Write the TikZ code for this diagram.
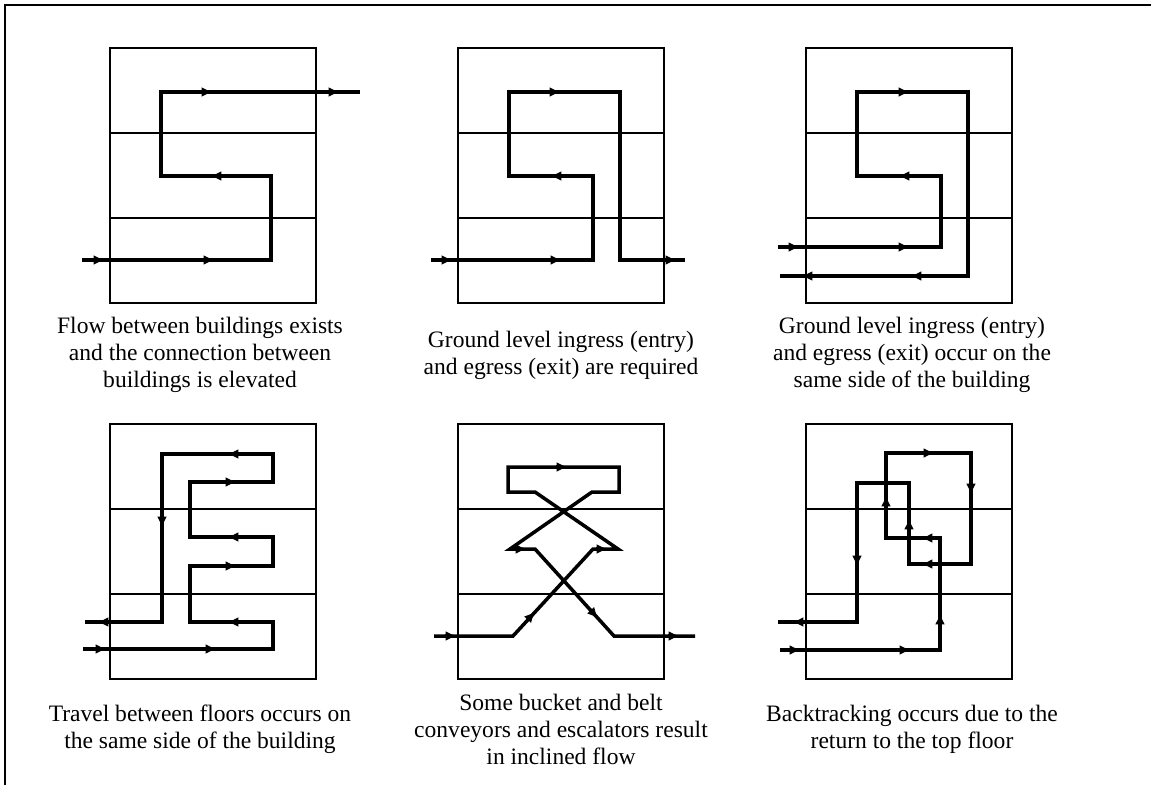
\documentclass[tikz,border=0pt]{standalone}
\usepackage{fontspec}
\setmainfont{Liberation Serif}
\usetikzlibrary{arrows.meta}
\newcommand\building[1]{\draw[floor] #1 rectangle ++(206,255);
  \draw[floor] #1 ++(0,85) -- ++(206,0) ++(-206,85) -- ++(206,0);}
\newcommand\flowtip[3]{\draw[tip] (#1,#2) ++(#3+180:7) -- ++(#3:12);}
\begin{document}
\begin{tikzpicture}[x=0.02cm, y=-0.02cm,
floor/.style = {line width=0.75pt},
flow/.style = {line width=2pt},
tip/.style = {line width=2pt, -{Latex[length=6.5pt,width=5.6pt]}},
caption/.style = {align=center, inner sep=0pt,
                  font=\fontsize{13.4}{15.4}\selectfont}
                        ]
\useasboundingbox (0,0) rectangle (1151,785);
\draw[line width=1.6pt] (5,785) -- (5,5) -- (1151,5);
% buildings
\building{(110,48)}
\building{(458,48)}
\building{(806,48)}
\building{(110,424)}
\building{(458,424)}
\building{(806,424)}
% elevated connection
\draw[flow] (82,260) -- (271,260) -- (271,176) -- (161,176) -- (161,92) -- (360,92);
\flowtip{100}{260}{0} \flowtip{210}{260}{0} \flowtip{215}{176}{180}
\flowtip{208}{92}{0} \flowtip{335}{92}{0}
% ground level in and out
\draw[flow] (431,260) -- (593,260) -- (593,176) -- (509,176) -- (509,92)
  -- (620,92) -- (620,260) -- (685,260);
\flowtip{448}{260}{0} \flowtip{557}{260}{0} \flowtip{555}{176}{180}
\flowtip{556}{92}{0} \flowtip{672}{260}{0}
% same side
\draw[flow] (778,247) -- (941,247) -- (941,176) -- (857,176) -- (857,92)
  -- (968,92) -- (968,276) -- (780,276);
\flowtip{795}{247}{0} \flowtip{905}{247}{0} \flowtip{903}{176}{180}
\flowtip{905}{92}{0} \flowtip{915}{276}{180} \flowtip{806}{276}{180}
% floors on one side
\draw[flow] (83,649) -- (273,649) -- (273,622) -- (190,622) -- (190,566)
  -- (273,566) -- (273,537) -- (190,537) -- (190,482) -- (273,482)
  -- (273,454) -- (162,454) -- (162,622) -- (85,622);
\flowtip{102}{649}{0} \flowtip{212}{649}{0} \flowtip{232}{622}{180}
\flowtip{232}{566}{0} \flowtip{232}{537}{180} \flowtip{232}{482}{0}
\flowtip{232}{454}{180} \flowtip{162}{523}{90} \flowtip{102}{622}{180}
% inclined flow
\draw[flow] (434,636) -- (513,636) -- (593,549) -- (618,549) -- (535,492)
  -- (508,492) -- (508,467) -- (619,467) -- (619,492) -- (592,492)
  -- (510,549) -- (535,549) -- (614,636) -- (695,636);
\flowtip{452}{636}{0} \flowtip{532}{615}{-47} \flowtip{603}{549}{0}
\flowtip{563}{467}{0} \flowtip{522}{549}{0} \flowtip{595}{615}{47.5}
\flowtip{675}{636}{0}
% backtracking
\draw[flow] (780,650) -- (940,650) -- (940,538) -- (886,538) -- (886,453)
  -- (971,453) -- (971,564) -- (909,564) -- (909,483) -- (857,483)
  -- (857,622) -- (778,622);
\flowtip{796}{650}{0} \flowtip{906}{650}{0} \flowtip{940}{618}{270}
\flowtip{926}{538}{180} \flowtip{886}{500}{270} \flowtip{930}{453}{0}
\flowtip{971}{490}{90} \flowtip{926}{564}{180} \flowtip{909}{523}{270}
\flowtip{857}{562}{90} \flowtip{797}{622}{180}
% captions
\node[caption] (elev) at (200,355) {Flow between buildings exists\\and the connection between\\buildings is elevated};
\node[caption] (ground) at (561,355) {Ground level ingress (entry)\\and egress (exit) are required};
\node[caption] (side) at (912,355) {Ground level ingress (entry)\\and egress (exit) occur on the\\same side of the building};
\node[caption] (travel) at (200,729) {Travel between floors occurs on\\the same side of the building};
\node[caption] (incl) at (561,729) {Some bucket and belt\\conveyors and escalators result\\in inclined flow};
\node[caption] (back) at (912,729) {Backtracking occurs due to the\\return to the top floor};
\end{tikzpicture}
\end{document}
